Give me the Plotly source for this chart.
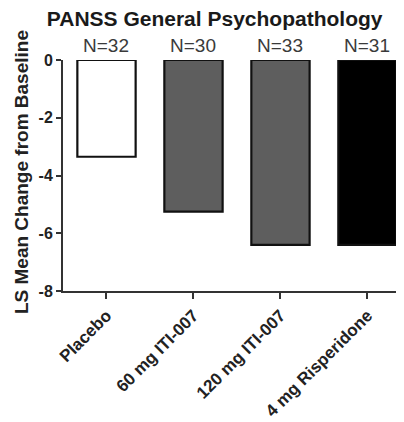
import plotly.graph_objects as go

categories = ["Placebo", "60 mg ITI-007", "120 mg ITI-007", "4 mg Risperidone"]
values = [-3.35, -5.25, -6.4, -6.4]
n_labels = ["N=32", "N=30", "N=33", "N=31"]
bar_colors = ["#ffffff", "#5e5e5e", "#5e5e5e", "#000000"]
y_ticks = [0, -2, -4, -6, -8]

FONT = "Liberation Sans, Arial, sans-serif"

fig = go.Figure()
fig.add_trace(go.Bar(
    x=list(range(len(categories))),
    y=values,
    width=0.67,
    marker=dict(color=bar_colors, line=dict(color="#111111", width=2.2)),
    showlegend=False,
))

for i, t in enumerate(n_labels):
    fig.add_annotation(x=i, y=0, xref="x", yref="y", text=t, showarrow=False,
                       yanchor="bottom", yshift=2,
                       font=dict(family=FONT, size=19, color="#3a3a3a"))

fig.add_annotation(xref="paper", yref="paper", x=0, y=0.515, xshift=-42,
                   text="<b>LS Mean Change from Baseline</b>", textangle=-90,
                   showarrow=False, xanchor="center", yanchor="middle",
                   font=dict(family=FONT, size=19, color="#222222"))

fig.update_layout(
    width=396, height=414,
    margin=dict(l=55, r=0, t=52, b=131),
    paper_bgcolor="white", plot_bgcolor="white",
    title=dict(text="<b>PANSS General Psychopathology</b>", xref="container", yref="container",
               x=0.098, y=0.975, xanchor="left", yanchor="middle",
               font=dict(family=FONT, size=21, color="#1a1a1a")),
    xaxis=dict(range=[-0.5, 3.42], tickmode="array",
               tickvals=list(range(len(categories))),
               ticktext=["<b>%s</b>" % c for c in categories],
               tickangle=-45, ticks="outside", ticklen=6, tickwidth=2, tickcolor="#333333",
               showline=True, linecolor="#333333", linewidth=2,
               showgrid=False, zeroline=False,
               tickfont=dict(family=FONT, size=17, color="#222222")),
    yaxis=dict(range=[-8, 0], tickmode="array", tickvals=y_ticks,
               ticktext=["<b>%d</b>" % v for v in y_ticks],
               ticks="outside", ticklen=5, tickwidth=2, tickcolor="#333333",
               showline=True, linecolor="#333333", linewidth=2,
               showgrid=False, zeroline=False,
               tickfont=dict(family=FONT, size=16, color="#222222")),
)

fig.write_html("out.html")
